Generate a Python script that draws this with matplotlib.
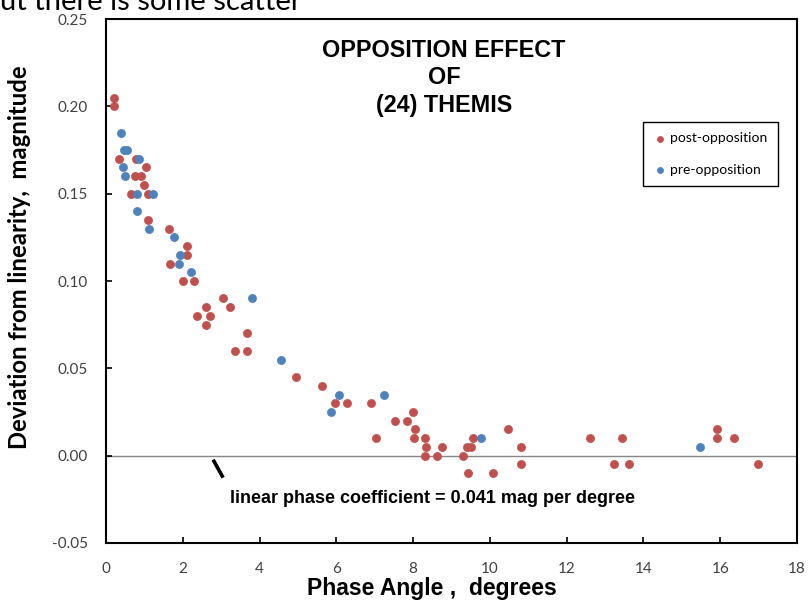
import numpy as np
import matplotlib
matplotlib.use("Agg")
import matplotlib.pyplot as plt

# post-opposition points (phase angle in deg, deviation in mag)
post_x = [0.21, 0.21, 0.35, 0.78, 1.04, 0.75, 0.92, 1.00, 0.65, 1.09, 1.10, 1.65,
          2.12, 2.12, 1.67, 2.00, 2.28, 3.04, 2.60, 3.24, 2.37, 2.70, 2.60, 3.68,
          3.37, 3.68, 4.94, 5.62, 5.96, 6.27, 6.90, 7.02, 7.53, 7.85, 8.00, 8.04,
          8.03, 8.31, 8.33, 8.31, 8.75, 8.61, 9.29, 9.40, 9.51, 9.56, 9.43, 10.08,
          10.48, 10.82, 10.80, 12.60, 13.44, 13.24, 13.62, 15.92, 15.92, 16.36, 16.98]
post_y = [0.205, 0.200, 0.170, 0.170, 0.165, 0.160, 0.160, 0.155, 0.150, 0.150, 0.135, 0.130,
          0.120, 0.115, 0.110, 0.100, 0.100, 0.090, 0.085, 0.085, 0.080, 0.080, 0.075, 0.070,
          0.060, 0.060, 0.045, 0.040, 0.030, 0.030, 0.030, 0.010, 0.020, 0.020, 0.025, 0.015,
          0.010, 0.010, 0.005, 0.000, 0.005, 0.000, 0.000, 0.005, 0.005, 0.010, -0.010, -0.010,
          0.015, 0.005, -0.005, 0.010, 0.010, -0.005, -0.005, 0.015, 0.010, 0.010, -0.005]

# pre-opposition points
pre_x = [0.38, 0.47, 0.54, 0.87, 0.45, 0.49, 0.80, 1.22, 0.80, 1.13, 1.78, 1.92,
         1.89, 2.22, 3.79, 4.55, 6.07, 5.86, 7.25, 9.77, 15.48]
pre_y = [0.185, 0.175, 0.175, 0.170, 0.165, 0.160, 0.150, 0.150, 0.140, 0.130, 0.125, 0.115,
         0.110, 0.105, 0.090, 0.055, 0.035, 0.025, 0.035, 0.010, 0.005]

x_ticks = [0, 2, 4, 6, 8, 10, 12, 14, 16, 18]
y_ticks = [-0.05, 0.00, 0.05, 0.10, 0.15, 0.20, 0.25]

# the little slash marking where the linear part starts
slash_x = [2.79, 3.05]
slash_y = [-0.0023, -0.0126]

red = "#C0504D"
blue = "#4F81BD"
tick_col = "#404040"
sans = ["Lato", "DejaVu Sans"]
arial = ["Liberation Sans", "DejaVu Sans"]

fig = plt.figure(figsize=(8.08, 6.04), dpi=100)
ax = fig.add_axes([0.1312, 0.1010, 0.8552, 0.8675])

ax.axhline(0, color="#868686", lw=1.0, zorder=1)
ax.scatter(post_x, post_y, s=34, color=red, edgecolors=red, lw=0.5, label="post-opposition", zorder=3)
ax.scatter(pre_x, pre_y, s=34, color=blue, edgecolors=blue, lw=0.5, label="pre-opposition", zorder=4)
ax.plot(slash_x, slash_y, color="black", lw=2.6, solid_capstyle="butt", zorder=5)

ax.set_xlim(0, 18)
ax.set_ylim(-0.05, 0.25)
ax.set_xticks(x_ticks)
ax.set_yticks(y_ticks)
ax.set_xticklabels([str(t) for t in x_ticks], fontfamily=sans, fontsize=11, color=tick_col)
ax.set_yticklabels([f"{t:.2f}" for t in y_ticks], fontfamily=sans, fontsize=11, color=tick_col)
ax.tick_params(axis="x", direction="in", length=4, width=1.2, pad=14)
ax.tick_params(axis="y", direction="in", length=4, width=1.2, pad=13)

for sp in ax.spines.values():
    sp.set_linewidth(1.5)
    sp.set_color("black")

ax.set_xlabel("Phase Angle ,  degrees", fontfamily=arial, fontweight="bold", fontsize=16.5)
ax.xaxis.set_label_coords(0.472, -0.064)
ax.set_ylabel("Deviation from linearity,  magnitude", fontfamily=sans, fontweight="bold", fontsize=17.2)
ax.yaxis.set_label_coords(-0.1085, 0.546)

ax.text(0.489, 0.962, "OPPOSITION EFFECT\nOF\n(24) THEMIS", transform=ax.transAxes,
        ha="center", va="top", fontfamily=arial, fontweight="bold", fontsize=16.8, linespacing=1.24)

ax.text(0.472, 0.085, "linear phase coefficient = 0.041 mag per degree", transform=ax.transAxes,
        ha="center", va="center", fontfamily=arial, fontweight="bold", fontsize=13)

leg = ax.legend(loc="upper right", bbox_to_anchor=(0.9725, 0.8034), borderaxespad=0,
                fancybox=False, edgecolor="black", framealpha=1, handletextpad=0.3,
                labelspacing=1.4, borderpad=0.75, handlelength=0.9, markerscale=0.75,
                prop={"family": sans, "size": 10})
leg.get_frame().set_linewidth(1.0)

# text from the page this chart was cut out of
fig.text(0.0, 1 - 10 / 604, "ut there is some scatter", fontfamily=sans,
         fontsize=21, ha="left", va="baseline")

fig.savefig("out.png", dpi=100)
